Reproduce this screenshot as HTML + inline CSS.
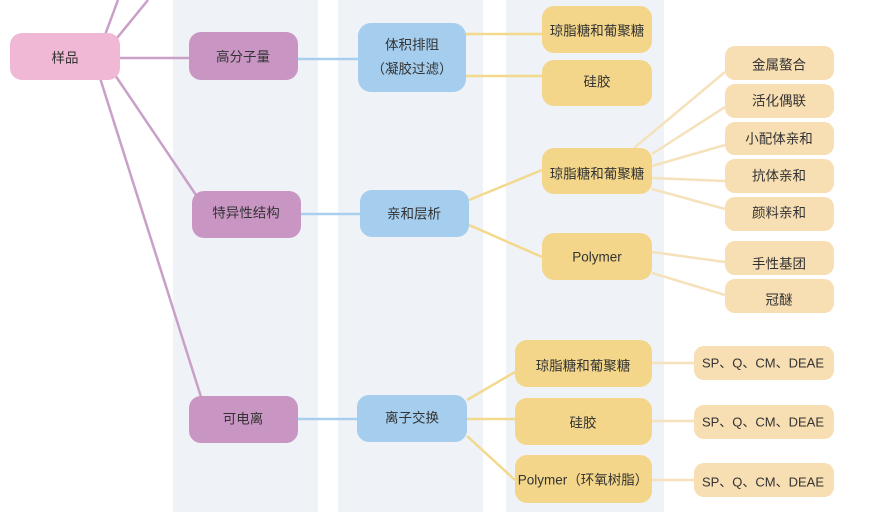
<!DOCTYPE html>
<html><head><meta charset="utf-8"><style>
html,body{margin:0;padding:0;background:#fff;width:875px;height:527px;overflow:hidden}
text{font-family:"Liberation Sans","Noto Sans CJK SC",sans-serif;font-size:13.5px;fill:#333;text-anchor:middle;dominant-baseline:central}
text.s{font-size:13px}
</style></head><body>
<svg width="875" height="527" viewBox="0 0 875 527" xmlns="http://www.w3.org/2000/svg">
<rect x="173" y="0" width="145" height="512" fill="#eff3f7"/>
<rect x="338" y="0" width="145" height="512" fill="#eff3f7"/>
<rect x="506" y="0" width="158" height="512" fill="#eff3f7"/>
<g stroke="#c9a0c8" stroke-width="2.5" fill="none">
<line x1="105" y1="35" x2="118" y2="0"/>
<line x1="117" y1="38" x2="148" y2="0"/>
<line x1="118" y1="58" x2="190" y2="58"/>
<line x1="115" y1="75" x2="196" y2="195"/>
<line x1="100" y1="78" x2="202" y2="400"/>
</g>
<g stroke="#a8cfee" stroke-width="2.5">
<line x1="298" y1="59" x2="358" y2="59"/>
<line x1="301" y1="214" x2="360" y2="214"/>
<line x1="298" y1="419" x2="357" y2="419"/>
</g>
<g stroke="#f3d98e" stroke-width="2.5">
<line x1="466" y1="34" x2="542" y2="34"/>
<line x1="466" y1="76" x2="542" y2="76"/>
<line x1="469" y1="200" x2="542" y2="170"/>
<line x1="469" y1="225" x2="542" y2="257"/>
<line x1="467" y1="400" x2="515" y2="372"/>
<line x1="467" y1="419" x2="515" y2="419"/>
<line x1="467" y1="436" x2="515" y2="480"/>
</g>
<g stroke="#f5e2bc" stroke-width="2.5">
<line x1="634" y1="148" x2="725" y2="72"/>
<line x1="652" y1="154" x2="725" y2="107"/>
<line x1="652" y1="166" x2="725" y2="145"/>
<line x1="652" y1="178" x2="725" y2="181"/>
<line x1="652" y1="189" x2="725" y2="209"/>
<line x1="652" y1="252" x2="725" y2="262"/>
<line x1="652" y1="273" x2="725" y2="295"/>
<line x1="652" y1="363" x2="694" y2="363"/>
<line x1="652" y1="421" x2="694" y2="421"/>
<line x1="652" y1="480" x2="694" y2="480"/>
</g>
<rect x="10" y="33" width="110" height="47" rx="12" fill="#f0b8d4"/><text x="65" y="58">样品</text>
<g fill="#c996c4">
<rect x="189" y="32" width="109" height="48" rx="12"/>
<rect x="192" y="191" width="109" height="47" rx="12"/>
<rect x="189" y="396" width="109" height="47" rx="12"/>
</g>
<text x="243" y="57">高分子量</text><text x="246" y="213">特异性结构</text><text x="243" y="419">可电离</text>
<g fill="#a4cdee">
<rect x="358" y="23" width="108" height="69" rx="13"/>
<rect x="360" y="190" width="109" height="47" rx="12"/>
<rect x="357" y="395" width="110" height="47" rx="12"/>
</g>
<text x="412" y="45">体积排阻</text><text x="412" y="69">（凝胶过滤）</text>
<text x="414" y="214">亲和层析</text><text x="412" y="418">离子交换</text>
<g fill="#f3d68a">
<rect x="542" y="6" width="110" height="47" rx="12"/>
<rect x="542" y="60" width="110" height="46" rx="12"/>
<rect x="542" y="148" width="110" height="46" rx="12"/>
<rect x="542" y="233" width="110" height="47" rx="12"/>
<rect x="515" y="340" width="137" height="47" rx="12"/>
<rect x="515" y="398" width="137" height="47" rx="12"/>
<rect x="515" y="455" width="137" height="48" rx="12"/>
</g>
<text x="597" y="31">琼脂糖和葡聚糖</text><text x="597" y="82">硅胶</text>
<text x="597" y="174">琼脂糖和葡聚糖</text><text x="597" y="257">Polymer</text>
<text x="583" y="366">琼脂糖和葡聚糖</text><text x="583" y="423">硅胶</text>
<text x="583" y="480">Polymer（环氧树脂）</text>
<g fill="#f7deb3">
<rect x="725" y="46" width="109" height="34" rx="10"/>
<rect x="725" y="84" width="109" height="34" rx="10"/>
<rect x="725" y="122" width="109" height="33" rx="10"/>
<rect x="725" y="159" width="109" height="34" rx="10"/>
<rect x="725" y="197" width="109" height="34" rx="10"/>
<rect x="725" y="241" width="109" height="34" rx="10"/>
<rect x="725" y="279" width="109" height="34" rx="10"/>
<rect x="694" y="346" width="140" height="34" rx="10"/>
<rect x="694" y="405" width="140" height="34" rx="10"/>
<rect x="694" y="463" width="140" height="34" rx="10"/>
</g>
<text x="779" y="65">金属螯合</text><text x="779" y="101">活化偶联</text>
<text x="779" y="139">小配体亲和</text><text x="779" y="176">抗体亲和</text>
<text x="779" y="213">颜料亲和</text><text x="779" y="264">手性基团</text>
<text x="779" y="300">冠醚</text>
<text class="s" x="763" y="363">SP、Q、CM、DEAE</text>
<text class="s" x="763" y="422">SP、Q、CM、DEAE</text>
<text class="s" x="763" y="482">SP、Q、CM、DEAE</text>
</svg>
</body></html>
